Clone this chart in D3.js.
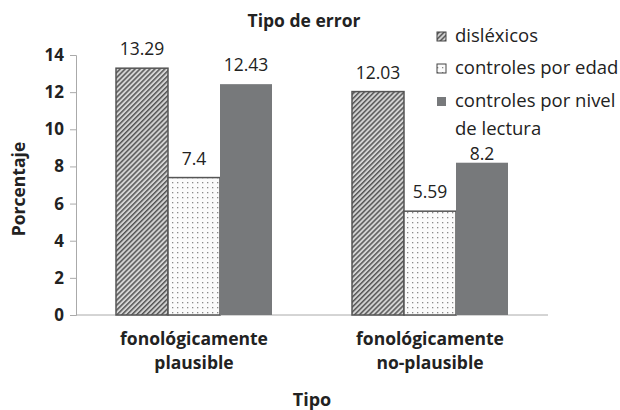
<!DOCTYPE html>
<html>
<head>
<meta charset="utf-8">
<script src="https://cdn.jsdelivr.net/npm/d3@7"></script>
<style>
  body { margin: 0; background: #fff; }
  svg { font-family: "Open Sans", sans-serif; }
</style>
</head>
<body>
<div id="chart"></div>
<script>
// Data
const categories = ["fonológicamente\nplausible", "fonológicamente\nno-plausible"];
const seriesNames = ["disléxicos", "controles por edad", "controles por nivel\nde lectura"];
const dislexicos = [13.29, 12.03];
const controlesEdad = [7.4, 5.59];
const controlesLectura = [12.43, 8.2];
const yTicks = [0, 2, 4, 6, 8, 10, 12, 14];

const series = [dislexicos, controlesEdad, controlesLectura];

const width = 620, height = 410;

const svg = d3.select("#chart")
    .append("svg")
    .attr("width", width)
    .attr("height", height);

// Patterns
const defs = svg.append("defs");
const hatch = defs.append("pattern")
    .attr("id", "hatch")
    .attr("patternUnits", "userSpaceOnUse")
    .attr("width", 3.5).attr("height", 3.5)
    .attr("patternTransform", "rotate(45)");
hatch.append("rect").attr("width", 3.5).attr("height", 3.5).attr("fill", "#d4d4d4");
hatch.append("rect").attr("width", 1.5).attr("height", 3.5).attr("fill", "#555");

const dots = defs.append("pattern")
    .attr("id", "dots")
    .attr("patternUnits", "userSpaceOnUse")
    .attr("width", 5).attr("height", 5);
dots.append("rect").attr("width", 5).attr("height", 5).attr("fill", "#fbfbfb");
dots.append("rect").attr("x", 2).attr("y", 2).attr("width", 1.3).attr("height", 1.3).attr("fill", "#8a8a8a");

const fills = ["url(#hatch)", "url(#dots)", "#77797b"];
const strokes = ["#555", "#555", "none"];

// Scales
const x = d3.scaleBand()
    .domain(categories)
    .range([76, 548]);

const barW = 52;
const y = d3.scaleLinear()
    .domain([0, 14])
    .range([315, 55]);

// Y axis
const yAxis = svg.append("g")
    .attr("transform", "translate(76,0)")
    .call(d3.axisLeft(y).tickValues(yTicks).tickSize(6).tickPadding(6));
yAxis.select(".domain").attr("stroke", "#aaa");
yAxis.selectAll(".tick line").attr("stroke", "#aaa");
yAxis.selectAll("text")
    .attr("fill", "#222")
    .attr("font-size", "17px")
    .attr("font-weight", "bold")
    .attr("font-family", "'Open Sans', sans-serif");

// X baseline
svg.append("line")
    .attr("x1", 76).attr("x2", 548)
    .attr("y1", y(0)).attr("y2", y(0))
    .attr("stroke", "#aaa");

// Bars
categories.forEach((cat, ci) => {
    const cx = x(cat) + x.bandwidth() / 2;
    series.forEach((s, si) => {
        const bx = cx - 1.5 * barW + si * barW;
        // the last label sits lower, just above its bar, under the legend
        const gap = (ci === 1 && si === 2) ? 3 : 13;
        svg.append("rect")
            .attr("x", bx)
            .attr("y", y(s[ci]))
            .attr("width", barW)
            .attr("height", y(0) - y(s[ci]))
            .attr("fill", fills[si])
            .attr("stroke", strokes[si])
            .attr("stroke-width", 1.5);
        svg.append("text")
            .attr("x", bx + barW / 2)
            .attr("y", y(s[ci]) - gap)
            .attr("text-anchor", "middle")
            .attr("font-size", "17.5px")
            .attr("fill", "#222")
            .text(s[ci]);
    });
    // Category labels
    const lines = cat.split("\n");
    lines.forEach((ln, li) => {
        svg.append("text")
            .attr("x", cx)
            .attr("y", 345 + li * 24)
            .attr("text-anchor", "middle")
            .attr("font-size", "17.5px")
            .attr("font-weight", "bold")
            .attr("fill", "#222")
            .text(ln);
    });
});

// Titles
svg.append("text")
    .attr("x", 304).attr("y", 27)
    .attr("text-anchor", "middle")
    .attr("font-size", "17.5px")
    .attr("font-weight", "bold")
    .attr("fill", "#222")
    .text("Tipo de error");

svg.append("text")
    .attr("x", 312).attr("y", 406)
    .attr("text-anchor", "middle")
    .attr("font-size", "18px")
    .attr("font-weight", "bold")
    .attr("fill", "#222")
    .text("Tipo");

svg.append("text")
    .attr("transform", "rotate(-90)")
    .attr("x", -189).attr("y", 25)
    .attr("text-anchor", "middle")
    .attr("font-size", "17.5px")
    .attr("font-weight", "bold")
    .attr("fill", "#222")
    .text("Porcentaje");

// Legend
const legendY = [36, 68, 101];
seriesNames.forEach((name, i) => {
    svg.append("rect")
        .attr("x", 437).attr("y", legendY[i] - 4)
        .attr("width", 9).attr("height", 9)
        .attr("fill", fills[i])
        .attr("stroke", i < 2 ? "#444" : "none")
        .attr("stroke-width", 1);
    name.split("\n").forEach((ln, li) => {
        svg.append("text")
            .attr("x", 455)
            .attr("y", legendY[i] + li * 28)
            .attr("dy", "0.35em")
            .attr("font-size", "18.5px")
            .attr("fill", "#222")
            .text(ln);
    });
});
</script>
</body>
</html>
